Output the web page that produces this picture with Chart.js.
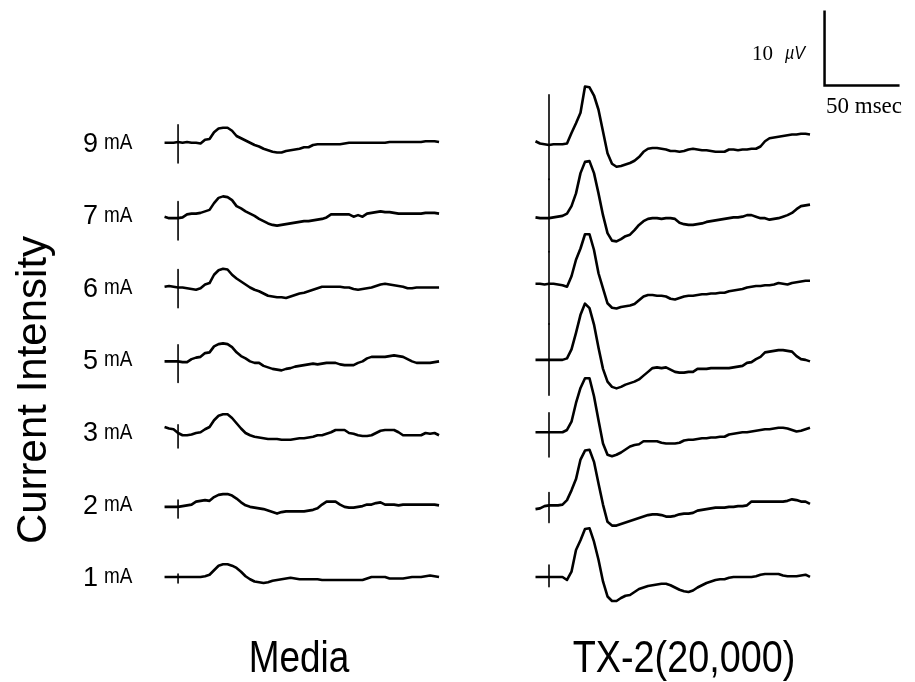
<!DOCTYPE html>
<html>
<head>
<meta charset="utf-8">
<script src="https://cdn.jsdelivr.net/npm/chart.js@4.4.0/dist/chart.umd.min.js"></script>
<style>
  html, body { margin: 0; padding: 0; background: #fff; }
  #wrap { width: 915px; height: 682px; }
</style>
</head>
<body>
<div id="wrap"><canvas id="traces" width="915" height="682"></canvas></div>
<script>
// sample times, msec after the stimulus
const timesMs = [-9, -6, -3, 0, 3, 6, 9, 12, 15, 18, 21, 24, 27, 30, 33, 36, 39, 42, 45, 48,
  51, 54, 57, 60, 63, 66, 69, 72, 75, 78, 81, 84, 87, 90, 93, 96, 99, 102, 105, 108,
  111, 114, 117, 120, 123, 126, 129, 132, 135, 138, 141, 144, 147, 150, 153, 156, 159, 162, 165, 168,
  171, 174];

// current intensity of each row, top to bottom (mA)
const intensities = [9, 7, 6, 5, 3, 2, 1];
const panelNames = ['Media', 'TX-2(20,000)'];

// Media traces (uV)
const media9 = [0, 0, 0, 0.1, 0, 0.1, 0, 0, -0.1, 0.4, 0.5, 1.4, 1.9, 2.0, 2.0, 1.6, 0.9, 0.6,
  0.3, 0, -0.3, -0.5, -0.8, -1.0, -1.2, -1.3, -1.3, -1.1, -1.0, -0.9, -0.8, -0.6, -0.6, -0.3, -0.2, -0.2, -0.2, -0.2,
  -0.2, -0.2, -0.1, 0, 0, 0, 0, 0, 0, 0, 0, 0, 0.1, 0.1, 0.1, 0.1, 0.1, 0.1, 0.1, 0.1, 0.2, 0.2, 0.2, 0.1];
const media7 = [-0.2, -0.4, -0.4, -0.4, -0.3, 0.1, 0.2, 0.2, 0.3, 0.5,
  0.7, 1.6, 2.3, 2.5, 2.4, 2.0, 1.2, 0.9, 0.5, 0.2,
  -0.1, -0.5, -0.8, -1.1, -1.3, -1.4, -1.3, -1.2, -1.1, -1.0,
  -0.9, -0.8, -0.8, -0.7, -0.6, -0.5, -0.3, 0.1, 0.1, 0.1,
  0.1, 0.1, -0.2, 0, -0.2, 0.2, 0.3, 0.4, 0.5, 0.4,
  0.4, 0.3, 0.2, 0.2, 0.2, 0.2, 0.2, 0.2, 0.3, 0.3, 0.3, 0.2];
const media6 = [0.1, 0.2, 0.1, 0, 0, -0.1, -0.2, -0.3, -0.1, 0.4,
  0.6, 1.7, 2.3, 2.5, 2.4, 1.7, 1.2, 0.8, 0.4, 0,
  -0.3, -0.5, -0.8, -1.1, -1.2, -1.3, -1.3, -1.4, -1.2, -1.0,
  -0.8, -0.7, -0.5, -0.3, -0.1, 0.1, 0.1, 0.1, 0.1, 0.1,
  0, 0, -0.2, -0.3, -0.2, -0.1, 0, 0.2, 0.4, 0.5,
  0.4, 0.3, 0.2, 0.1, -0.1, -0.1, 0, 0, 0, 0, 0, 0];
const media5 = [-0.2, -0.2, -0.2, -0.2, -0.3, -0.3, 0.1, 0.3, 0.4, 0.9,
  1.0, 1.8, 2.1, 2.2, 2.1, 1.7, 1.0, 0.5, 0.2, -0.2,
  -0.4, -0.4, -0.8, -1.0, -1.2, -1.3, -1.4, -1.2, -1.1, -0.9,
  -0.8, -0.7, -0.6, -0.5, -0.6, -0.5, -0.4, -0.4, -0.4, -0.6,
  -0.7, -0.7, -0.7, -0.4, -0.2, 0.2, 0.4, 0.4, 0.4, 0.4,
  0.5, 0.6, 0.5, 0.4, 0.1, -0.2, -0.4, -0.4, -0.4, -0.4, -0.3, -0.2];
const media3 = [0.7, 0.5, 0.4, -0.1, -0.4, -0.4, -0.3, -0.1, 0, 0.4,
  0.7, 1.6, 2.2, 2.4, 2.4, 1.9, 1.2, 0.5, -0.1, -0.4,
  -0.6, -0.7, -0.8, -0.9, -0.9, -0.9, -1.0, -1.0, -1.0, -0.9,
  -0.8, -0.8, -0.7, -0.6, -0.4, -0.4, -0.2, 0, 0.3, 0.3,
  0.3, -0.1, -0.2, -0.4, -0.5, -0.5, -0.4, -0.1, 0.2, 0.3,
  0.3, 0.3, 0, -0.4, -0.4, -0.4, -0.4, -0.4, -0.1, -0.2, -0.1, -0.4];
const media2 = [-0.3, -0.3, -0.3, -0.3, -0.2, -0.1, 0, 0.4, 0.5, 0.6,
  0.5, 1.0, 1.3, 1.4, 1.4, 1.2, 0.8, 0.3, -0.1, -0.3,
  -0.4, -0.5, -0.6, -0.8, -1.0, -1.2, -1.0, -0.9, -0.9, -0.9,
  -0.9, -0.9, -0.8, -0.7, -0.5, 0, 0.4, 0.4, 0.4, 0,
  -0.3, -0.4, -0.4, -0.3, -0.2, 0, 0, 0.2, 0.3, 0,
  0, 0, -0.1, 0, 0, 0, 0, 0, 0, 0, 0, -0.1];
const media1 = [0, 0, 0, 0, 0, 0, 0, 0, 0, 0.1,
  0.3, 0.9, 1.5, 1.7, 1.7, 1.5, 1.2, 0.7, 0.1, -0.3,
  -0.6, -0.7, -0.8, -0.7, -0.5, -0.4, -0.3, -0.2, -0.1, -0.2,
  -0.3, -0.3, -0.3, -0.3, -0.3, -0.4, -0.4, -0.4, -0.4, -0.4,
  -0.4, -0.4, -0.4, -0.4, -0.4, -0.2, 0, 0, 0, 0,
  -0.2, -0.2, -0.2, -0.2, -0.1, 0, 0, 0, 0.1, 0.2, 0.1, 0];

// TX-2(20,000) traces (uV)
const tx9 = [0.2, -0.1, -0.2, -0.3, -0.2, -0.2, -0.2, -0.1, 1.3, 2.6,
  4.0, 7.5, 7.4, 6.3, 4.4, 1.5, -1.4, -2.8, -3.2, -3.1,
  -2.9, -2.7, -2.4, -1.9, -1.2, -0.8, -0.7, -0.7, -0.8, -0.9,
  -1.1, -1.1, -1.2, -1.1, -0.9, -0.8, -0.9, -1.0, -1.0, -1.1,
  -1.2, -1.2, -1.2, -0.9, -0.9, -1.0, -0.9, -0.9, -0.8, -0.8,
  -0.5, 0.2, 0.6, 0.7, 0.8, 0.9, 1.0, 1.1, 1.1, 1.2, 1.2, 1.1];
const tx7 = [-0.3, -0.4, -0.4, -0.4, -0.3, -0.2, -0.1, 0.2, 1.2, 2.9,
  5.6, 7.1, 7.2, 5.6, 2.9, 0, -2.4, -3.4, -3.5, -3.2,
  -2.8, -2.6, -2.0, -1.3, -0.8, -0.5, -0.4, -0.4, -0.5, -0.4,
  -0.4, -0.5, -1.0, -1.2, -1.3, -1.3, -1.2, -1.1, -0.9, -0.8,
  -0.7, -0.6, -0.5, -0.4, -0.3, -0.3, -0.2, 0, 0, -0.2,
  -0.4, -0.4, -0.6, -0.5, -0.4, -0.2, 0, 0.3, 0.8, 1.2, 1.3, 1.4];
const tx6 = [0.5, 0.5, 0.4, 0.5, 0.5, 0.4, 0.3, 0.1, 1.5, 3.7,
  5.2, 7.1, 7.1, 5.0, 1.9, -0.1, -2.1, -2.7, -2.8, -2.6,
  -2.5, -2.4, -2.2, -1.7, -1.2, -1.0, -1.0, -1.1, -1.1, -1.2,
  -1.5, -1.6, -1.4, -1.2, -1.1, -1.1, -1.0, -0.9, -0.9, -0.8,
  -0.8, -0.7, -0.7, -0.5, -0.4, -0.3, -0.2, 0, 0.1, 0.2,
  0.2, 0.3, 0.3, 0.4, 0.6, 0.5, 0.4, 0.6, 0.7, 0.8, 0.9, 0.9];
const tx5 = [0, 0, 0, 0, 0, 0, 0, 0.2, 1.4, 3.6,
  6.0, 7.5, 6.9, 4.7, 1.6, -1.2, -2.9, -3.6, -3.8, -3.6,
  -3.3, -3.1, -2.9, -2.6, -2.1, -1.6, -1.1, -1.0, -1.1, -1.0,
  -1.3, -1.6, -1.7, -1.7, -1.6, -1.6, -1.2, -1.2, -1.2, -1.1,
  -1.1, -1.1, -1.1, -1.1, -1.0, -0.9, -0.8, -0.4, -0.3, 0.1,
  0.4, 1.0, 1.1, 1.2, 1.3, 1.3, 1.2, 1.1, 0.5, 0.1, 0, -0.2];
const tx3 = [0, 0, 0, 0, 0, 0, 0, 0.3, 1.4, 3.9,
  5.9, 7.2, 7.2, 4.8, 1.6, -1.5, -3.0, -3.2, -3.0, -2.7,
  -2.3, -1.9, -1.7, -1.6, -1.2, -1.2, -1.2, -1.2, -1.4, -1.5,
  -1.5, -1.5, -1.4, -1.1, -1.0, -1.0, -0.9, -0.8, -0.8, -0.7,
  -0.7, -0.6, -0.6, -0.3, -0.2, -0.1, 0, 0, 0.1, 0.2,
  0.3, 0.4, 0.4, 0.5, 0.6, 0.6, 0.5, 0.3, 0.1, 0.2, 0.4, 0.6];
const tx2 = [-0.6, -0.5, -0.2, -0.1, -0.1, -0.1, 0, 0.6, 1.9, 3.4,
  6.0, 7.2, 7.3, 5.7, 2.8, 0, -2.3, -2.8, -2.8, -2.6,
  -2.4, -2.2, -2.0, -1.8, -1.6, -1.4, -1.3, -1.3, -1.4, -1.6,
  -1.6, -1.5, -1.3, -1.2, -1.2, -1.1, -0.8, -0.7, -0.6, -0.5,
  -0.4, -0.4, -0.4, -0.3, -0.3, -0.2, -0.2, -0.1, 0.4, 0.4,
  0.4, 0.4, 0.4, 0.4, 0.4, 0.4, 0.5, 0.7, 0.6, 0.4, 0.4, 0.1];
const tx1 = [0, 0, 0, 0, 0, 0, 0, -0.4, 0.7, 3.6,
  4.9, 6.4, 6.5, 4.7, 2.3, -0.6, -2.6, -3.2, -3.2, -2.8,
  -2.5, -2.4, -2.0, -1.6, -1.4, -1.2, -1.1, -1.0, -0.9, -0.9,
  -1.1, -1.4, -1.7, -1.9, -2.0, -1.8, -1.4, -1.1, -0.8, -0.6,
  -0.4, -0.3, -0.3, -0.1, 0, 0, 0, 0, 0, 0.1,
  0.3, 0.4, 0.4, 0.4, 0.4, 0.2, 0.1, 0.1, 0.1, 0.2, 0.3, 0];

// stimulus artefact extent above / below each trace (uV), rows top to bottom
const mediaStimUp = [2.4, 1.8, 2.4, 2.0, 1.0, 0.6, 0.4];
const mediaStimDown = [2.7, 3.3, 2.7, 3.0, 2.1, 1.8, 0.8];
const txStimUp = [6.4, 4.8, 4.8, 4.8, 2.6, 1.6, 1.6];
const txStimDown = [4.9, 4.9, 4.9, 4.7, 3.3, 2.4, 1.3];

// scale bar
const scaleBarMs = 50;
const scaleBarUv = 10;

// layout
const rowSpacingUv = 9.645;
const panelShiftMs = 247.3;
const mediaTraces = [media9, media7, media6, media5, media3, media2, media1];
const txTraces = [tx9, tx7, tx6, tx5, tx3, tx2, tx1];

function rowBase(row) {
    return (intensities.length - 1 - row) * rowSpacingUv;
}

function tracePoints(values, row, shift) {
    return values.map((v, k) => ({ x: timesMs[k] + shift, y: v + rowBase(row) }));
}

function stimPoints(up, down, row, shift) {
    return [{ x: shift, y: rowBase(row) + up }, { x: shift, y: rowBase(row) - down }];
}

const datasets = [];
intensities.forEach((mA, row) => {
    datasets.push({ label: 'Media ' + mA, data: tracePoints(mediaTraces[row], row, 0), borderWidth: 2.6 });
    datasets.push({ label: 'TX-2 ' + mA, data: tracePoints(txTraces[row], row, panelShiftMs), borderWidth: 2.6 });
    datasets.push({ label: 'stim', data: stimPoints(mediaStimUp[row], mediaStimDown[row], row, 0), borderWidth: 1.6 });
    datasets.push({ label: 'stim', data: stimPoints(txStimUp[row], txStimDown[row], row, panelShiftMs), borderWidth: 1.6 });
});
datasets.forEach(d => {
    d.showLine = true;
    d.pointRadius = 0;
    d.borderColor = '#000';
    d.fill = false;
    d.tension = 0;
    d.borderJoinStyle = 'round';
});

// draw text with a horizontal squeeze (narrow face)
function narrowText(ctx, text, x, y, sx, align) {
    ctx.save();
    ctx.translate(x, y);
    ctx.scale(sx, 1);
    ctx.textAlign = align;
    ctx.fillText(text, 0, 0);
    ctx.restore();
}

const labelPlugin = {
    id: 'labels',
    afterDraw(chart) {
        const { ctx, scales: { x, y } } = chart;
        ctx.save();
        ctx.fillStyle = '#000';
        ctx.strokeStyle = '#000';
        ctx.textBaseline = 'alphabetic';

        // row labels
        intensities.forEach((mA, row) => {
            const py = y.getPixelForValue(rowBase(row));
            ctx.font = '27px "Liberation Sans", Arial, sans-serif';
            ctx.textAlign = 'right';
            ctx.fillText(String(mA), 98, py + 9);
            ctx.font = '22px "Liberation Sans", Arial, sans-serif';
            narrowText(ctx, 'mA', 104, py + 6.5, 0.86, 'left');
        });

        // panel names
        ctx.font = '45px "Liberation Sans", Arial, sans-serif';
        narrowText(ctx, panelNames[0], 299, 672, 0.82, 'center');
        narrowText(ctx, panelNames[1], 684, 672, 0.84, 'center');

        // axis title
        ctx.save();
        ctx.translate(46, 390);
        ctx.rotate(-Math.PI / 2);
        ctx.font = '42px "Liberation Sans", Arial, sans-serif';
        ctx.textAlign = 'center';
        ctx.fillText('Current Intensity', 0, 0);
        ctx.restore();

        // scale bar
        const t0 = 431, v0 = 65.5;
        ctx.lineWidth = 2.5;
        ctx.beginPath();
        ctx.moveTo(x.getPixelForValue(t0), y.getPixelForValue(v0 + scaleBarUv));
        ctx.lineTo(x.getPixelForValue(t0), y.getPixelForValue(v0));
        ctx.lineTo(x.getPixelForValue(t0 + scaleBarMs), y.getPixelForValue(v0));
        ctx.stroke();

        ctx.textAlign = 'left';
        ctx.font = '21px "Liberation Serif", "Times New Roman", serif';
        ctx.fillText(scaleBarUv + ' ', 752, 60);
        ctx.font = 'italic 18px "Liberation Sans", Arial, sans-serif';
        narrowText(ctx, '\u00b5V', 785, 59, 0.9, 'left');
        ctx.font = '23px "Liberation Serif", "Times New Roman", serif';
        ctx.fillText(scaleBarMs + ' msec', 826, 113);
        ctx.restore();
    }
};

const tracesCanvas = document.getElementById('traces').getContext('2d');
new Chart(tracesCanvas, {
    type: 'scatter',
    data: { datasets: datasets },
    options: {
        responsive: false,
        animation: false,
        events: [],
        layout: { padding: 0 },
        plugins: {
            legend: { display: false },
            tooltip: { enabled: false },
        },
        scales: {
            x: { type: 'linear', display: false, min: -118.7, max: 491.3 },
            y: { type: 'linear', display: false, min: -14, max: 76.9 },
        },
    },
    plugins: [labelPlugin],
});
</script>
</body>
</html>
